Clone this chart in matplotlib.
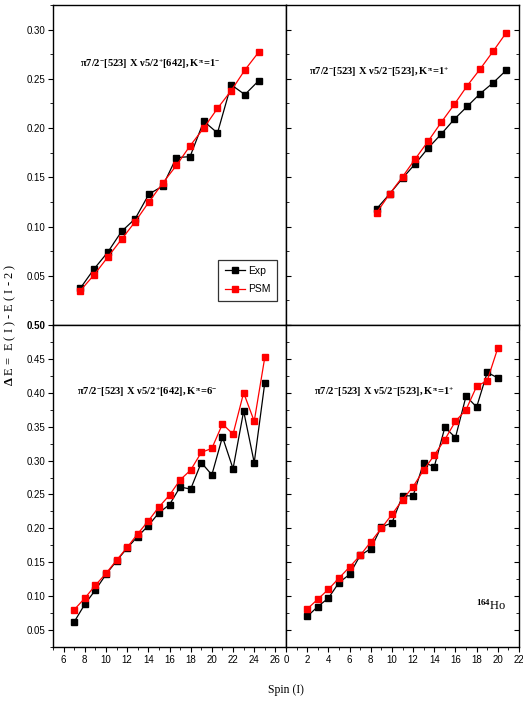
import numpy as np
import matplotlib
matplotlib.use('Agg')
import matplotlib.pyplot as plt
from matplotlib.ticker import MultipleLocator

plt.rcParams['font.family'] = ['Liberation Sans Narrow', 'Liberation Sans', 'DejaVu Sans']
plt.rcParams['mathtext.fontset'] = 'custom'
plt.rcParams['mathtext.rm'] = 'Liberation Serif:bold'
plt.rcParams['mathtext.it'] = 'Liberation Serif:bold'
plt.rcParams['mathtext.bf'] = 'Liberation Serif:bold'

# ── data: (a) K=1-  (b) K=1+  (c) K=6-  (d) K=1+
spin_a = np.arange(8, 22)
exp_a = [0.0375, 0.057, 0.074, 0.095, 0.108, 0.133, 0.141, 0.170, 0.171, 0.207, 0.195, 0.244, 0.234, 0.248]
psm_a = [0.035, 0.051, 0.069, 0.087, 0.105, 0.125, 0.144, 0.162, 0.182, 0.200, 0.220, 0.238, 0.259, 0.277]

spin_b = np.arange(7, 18)
exp_b = [0.118, 0.133, 0.149, 0.164, 0.180, 0.194, 0.209, 0.222, 0.235, 0.246, 0.2585]
psm_b = [0.114, 0.133, 0.1505, 0.169, 0.187, 0.206, 0.224, 0.243, 0.260, 0.278, 0.2966]

spin_c = np.arange(7, 26)
exp_c = [0.062, 0.088, 0.109, 0.132, 0.152, 0.171, 0.188, 0.204, 0.223, 0.235, 0.261, 0.258,
         0.297, 0.279, 0.335, 0.288, 0.373, 0.297, 0.415]
psm_c = [0.080, 0.097, 0.116, 0.1335, 0.153, 0.172, 0.192, 0.211, 0.2315, 0.249, 0.2715, 0.286,
         0.312, 0.318, 0.354, 0.339, 0.400, 0.358, 0.4525]

spin_d = np.arange(2, 21)
exp_d = [0.070, 0.0846, 0.097, 0.120, 0.132, 0.160, 0.170, 0.202, 0.208, 0.248, 0.248, 0.297,
         0.291, 0.349, 0.334, 0.395, 0.379, 0.430, 0.422]
psm_d = [0.081, 0.0955, 0.110, 0.1266, 0.143, 0.160, 0.180, 0.200, 0.2206, 0.242, 0.2616, 0.286,
         0.308, 0.331, 0.358, 0.375, 0.4095, 0.418, 0.466]

labels = [r'$\pi 7/2^{-}[523]\ X\ \nu 5/2^{+}[642],K^{\pi}\!=\!1^{-}$',
          r'$\pi 7/2^{-}[523]\ X\ \nu 5/2^{-}[523],K^{\pi}\!=\!1^{+}$',
          r'$\pi 7/2^{-}[523]\ X\ \nu 5/2^{+}[642],K^{\pi}\!=\!6^{-}$',
          r'$\pi 7/2^{-}[523]\ X\ \nu 5/2^{-}[523],K^{\pi}\!=\!1^{+}$']

fig = plt.figure(figsize=(5.23, 7.04), dpi=100)
L, M, R = 53 / 523, 286 / 523, 519 / 523
T, H, B = 1 - 5 / 704, 1 - 325 / 704, 1 - 647 / 704

ax_a = fig.add_axes([L, H, M - L, T - H])
ax_b = fig.add_axes([M, H, R - M, T - H])
ax_c = fig.add_axes([L, B, M - L, H - B])
ax_d = fig.add_axes([M, B, R - M, H - B])

panels = [(ax_a, spin_a, exp_a, psm_a, (6, 23), (0, 0.325)),
          (ax_b, spin_b, exp_b, psm_b, (0, 18), (0, 0.325)),
          (ax_c, spin_c, exp_c, psm_c, (5, 27), (0.025, 0.50)),
          (ax_d, spin_d, exp_d, psm_d, (0, 22), (0.025, 0.50))]

text_pos = [(0.115, 0.815), (0.10, 0.79), (0.105, 0.79), (0.12, 0.79)]

for k, (ax, s, e, p, xl, yl) in enumerate(panels):
    ax.plot(s, e, color='black', lw=0.9, marker='s', ms=4.5, label='Exp', zorder=3)
    ax.plot(s, p, color='red', lw=0.9, marker='s', ms=4.5, label='PSM', zorder=4)
    ax.set_xlim(*xl)
    ax.set_ylim(*yl)
    ax.xaxis.set_major_locator(MultipleLocator(2))
    ax.xaxis.set_minor_locator(MultipleLocator(1))
    ax.yaxis.set_major_locator(MultipleLocator(0.05))
    ax.yaxis.set_minor_locator(MultipleLocator(0.025))
    for sp in ax.spines.values():
        sp.set_linewidth(1.0)
    left_col = k in (0, 2)
    top_row = k in (0, 1)
    ax.tick_params(axis='x', which='both', direction='out', top=False,
                   labelbottom=not top_row, labelsize=7, pad=2)
    ax.tick_params(axis='x', which='major', length=3.5)
    ax.tick_params(axis='x', which='minor', length=2)
    ax.tick_params(axis='y', which='both', left=True, right=True,
                   direction='out' if left_col else 'in', labelleft=left_col, labelsize=7, pad=2)
    ax.tick_params(axis='y', which='major', length=3.5)
    ax.tick_params(axis='y', which='minor', length=2)
    ax.text(text_pos[k][0], text_pos[k][1], labels[k], transform=ax.transAxes,
            fontsize=7.6, ha='left', va='center')

# y tick labels: top panels 0.05..0.30, bottom 0.05..0.50
ax_a.set_yticks(np.arange(0.05, 0.31, 0.05))
ax_a.set_yticklabels([f'{v:.2f}' for v in np.arange(0.05, 0.31, 0.05)])
ax_c.set_yticks(np.arange(0.05, 0.51, 0.05))
ax_c.set_yticklabels([f'{v:.2f}' for v in np.arange(0.05, 0.51, 0.05)])
ax_c.get_yticklabels()[-1].set_fontweight('bold')

leg = ax_a.legend(loc='lower right', bbox_to_anchor=(0.985, 0.06), fontsize=7.5,
                  frameon=True, fancybox=False, edgecolor='black', handlelength=2.0,
                  borderpad=0.6, labelspacing=0.8, handletextpad=0.3)
leg.get_frame().set_linewidth(0.9)

ax_d.text(0.88, 0.13, r'$^{164}$Ho', transform=ax_d.transAxes, fontsize=9,
          ha='center', va='center', family='Liberation Serif')

fig.text(0.02, H, r'$\Delta$ E =  E ( I ) - E ( I - 2 )', rotation=90, ha='center', va='center',
         fontsize=9, family='Liberation Serif')
fig.text(M, 0.02, 'Spin (I)', ha='center', va='center', fontsize=8.5, family='Liberation Serif')

fig.savefig('out.png', dpi=100, facecolor='white')
